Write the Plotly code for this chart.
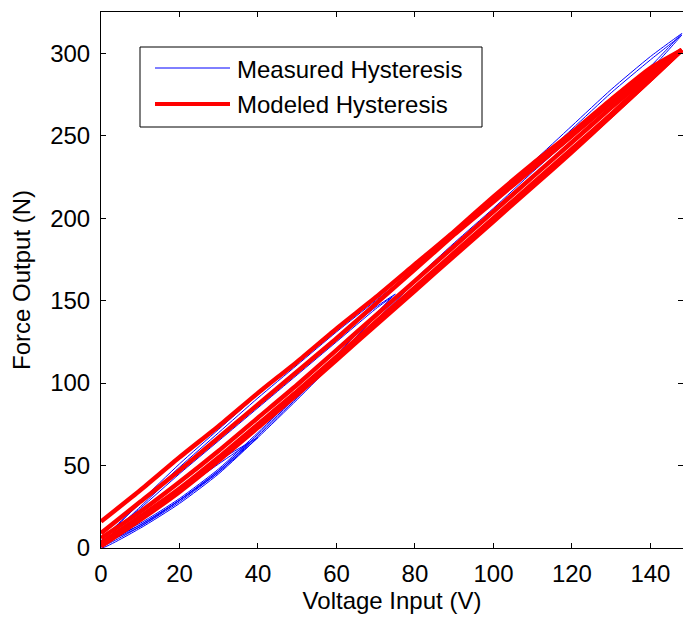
import numpy as np
import plotly.graph_objects as go

# ---- Measured hysteresis (voltage in V, force in N), one list per branch ----
meas_v_up_major = [0, 10, 20, 30, 40, 50, 60, 70, 80, 90, 100, 110, 120, 130, 140, 148]
meas_f_up_major = [0, 12, 27, 45, 67, 90, 114, 138, 161, 183, 205, 226, 247, 268, 290, 311]
meas_v_dn_major = [148, 140, 130, 120, 110, 100, 90, 80, 70, 60, 50, 40, 30, 20, 10, 0]
meas_f_dn_major = [311, 296, 276, 254, 232, 211, 190, 169, 150, 131, 111, 91, 70, 49, 27, 4]

meas_v_up_major2 = [0, 10, 20, 30, 40, 50, 60, 70, 80, 90, 100, 110, 120, 130, 140, 148]
meas_f_up_major2 = [2, 14, 29, 47, 69, 92, 116, 140, 163, 185, 206, 228, 249, 270, 292, 312]
meas_v_dn_major2 = [148, 140, 130, 120, 110, 100, 90, 80, 70, 60, 50, 40, 30, 20, 10, 0]
meas_f_dn_major2 = [312, 298, 278, 256, 234, 213, 192, 171, 152, 133, 113, 93, 72, 51, 28, 3]

meas_v_up_mid = [0, 10, 20, 30, 40, 50, 60, 70, 74]
meas_f_up_mid = [3, 14, 29, 46, 68, 91, 115, 141, 152]
meas_v_dn_mid = [74, 70, 60, 50, 40, 30, 20, 10, 0]
meas_f_dn_mid = [152, 145, 125, 105, 85, 65, 45, 24, 4]

meas_v_up_mid2 = [0, 10, 20, 30, 40, 50, 60, 70, 75]
meas_f_up_mid2 = [4, 15, 30, 48, 70, 93, 117, 142, 154]
meas_v_dn_mid2 = [75, 70, 60, 50, 40, 30, 20, 10, 0]
meas_f_dn_mid2 = [154, 146, 127, 107, 87, 67, 47, 25, 2]

meas_v_up_low = [0, 10, 20, 30, 40]
meas_f_up_low = [2, 13, 28, 46, 67]
meas_v_dn_low = [40, 30, 20, 10, 0]
meas_f_dn_low = [67, 53, 36, 19, 2]

meas_v_up_low2 = [0, 10, 20, 30, 38]
meas_f_up_low2 = [1, 13, 29, 47, 64]
meas_v_dn_low2 = [38, 30, 20, 10, 0]
meas_f_dn_low2 = [64, 51, 34, 17, 1]

# ---- Modeled hysteresis: three full cycles on a shared voltage grid ----
mod_v_up = [0, 10, 20, 30, 40, 50, 60, 70, 80, 90, 100, 110, 120, 130, 140, 148]
mod_v_dn = [148, 140, 130, 120, 110, 100, 90, 80, 70, 60, 50, 40, 30, 20, 10, 0]

mod_f_up_1 = [1, 17, 34, 53, 73, 93, 114, 135, 156, 177, 198, 219, 240, 262, 284, 302]
mod_f_dn_1 = [302, 291, 272, 252, 233, 213, 192, 172, 152, 133, 113, 94, 74, 55, 35, 16]

mod_f_up_2 = [3, 19, 36, 55, 75, 95, 116, 137, 158, 179, 200, 221, 242, 263, 285, 302]
mod_f_dn_2 = [302, 289, 270, 250, 230, 210, 190, 169, 148, 127, 107, 87, 67, 47, 28, 9]

mod_f_up_3 = [2, 18, 35, 54, 74, 94, 115, 136, 157, 178, 199, 220, 241, 262, 284, 302]
mod_f_dn_3 = [302, 287, 267, 246, 225, 204, 183, 162, 141, 120, 99, 79, 59, 40, 22, 6]


def chain(*parts):
    return np.concatenate([np.asarray(p, dtype=float) for p in parts])


GAP = [np.nan]

meas_v = chain(meas_v_up_low, meas_v_dn_low, meas_v_up_mid, meas_v_dn_mid,
               meas_v_up_major, meas_v_dn_major, meas_v_up_low2, meas_v_dn_low2,
               meas_v_up_mid2, meas_v_dn_mid2, meas_v_up_major2, meas_v_dn_major2)
meas_f = chain(meas_f_up_low, meas_f_dn_low, meas_f_up_mid, meas_f_dn_mid,
               meas_f_up_major, meas_f_dn_major, meas_f_up_low2, meas_f_dn_low2,
               meas_f_up_mid2, meas_f_dn_mid2, meas_f_up_major2, meas_f_dn_major2)

mod_v = chain(mod_v_up, mod_v_dn, GAP, mod_v_up, mod_v_dn, GAP, mod_v_up, mod_v_dn)
mod_f = chain(mod_f_up_3, mod_f_dn_3, GAP, mod_f_up_2, mod_f_dn_2, GAP, mod_f_up_1, mod_f_dn_1)

FONT = "Liberation Sans, Arial, Helvetica, sans-serif"
BLUE = "#0000ff"
RED = "#ff0000"
FS = 24

fig = go.Figure()
fig.add_trace(go.Scatter(x=meas_v, y=meas_f, mode="lines", name="Measured Hysteresis",
                         line=dict(color=BLUE, width=1, shape="spline", smoothing=0.6),
                         showlegend=False))
fig.add_trace(go.Scatter(x=mod_v, y=mod_f, mode="lines", name="Modeled Hysteresis",
                         line=dict(color=RED, width=4.5, shape="spline", smoothing=0.6),
                         connectgaps=False, showlegend=False))

W, H = 683, 621
L, R, T, B = 101, 0, 12, 73
pw, ph = W - L - R, H - T - B


def px(x):
    return (x - L) / pw


def py(y):
    return 1 - (y - T) / ph


# legend frame, samples and labels
shapes = [
    dict(type="rect", xref="paper", yref="paper", x0=px(140), x1=px(482), y0=py(127), y1=py(47),
         line=dict(color="black", width=1), fillcolor="white", layer="above"),
    dict(type="line", xref="paper", yref="paper", x0=px(155), x1=px(230), y0=py(68), y1=py(68),
         line=dict(color=BLUE, width=1), layer="above"),
    dict(type="line", xref="paper", yref="paper", x0=px(155), x1=px(230), y0=py(104), y1=py(104),
         line=dict(color=RED, width=4), layer="above"),
]
annotations = [
    dict(text="Measured Hysteresis", xref="paper", yref="paper", x=px(235), y=py(69),
         xanchor="left", yanchor="middle", showarrow=False, font=dict(size=FS, color="black", family=FONT)),
    dict(text="Modeled Hysteresis", xref="paper", yref="paper", x=px(235), y=py(105),
         xanchor="left", yanchor="middle", showarrow=False, font=dict(size=FS, color="black", family=FONT)),
]

axis_common = dict(showline=True, linecolor="black", linewidth=1, mirror="ticks",
                   ticks="inside", ticklen=5, tickcolor="black", showgrid=False, zeroline=False,
                   tickfont=dict(size=FS, color="black", family=FONT))

fig.update_layout(
    width=W, height=H,
    margin=dict(l=L, r=R, t=T, b=B, pad=0),
    paper_bgcolor="white", plot_bgcolor="white",
    xaxis=dict(range=[0, 148.3], tickmode="array", tickvals=[0, 20, 40, 60, 80, 100, 120, 140],
               title=dict(text="Voltage Input (V)", font=dict(size=FS, color="black", family=FONT), standoff=4),
               ticklabelstandoff=4, **axis_common),
    yaxis=dict(range=[0, 325], tickmode="array", tickvals=[0, 50, 100, 150, 200, 250, 300],
               title=dict(text="Force Output (N)", font=dict(size=FS, color="black", family=FONT), standoff=12),
               ticklabelstandoff=5, **axis_common),
    shapes=shapes, annotations=annotations,
)

fig.write_html("out.html")
